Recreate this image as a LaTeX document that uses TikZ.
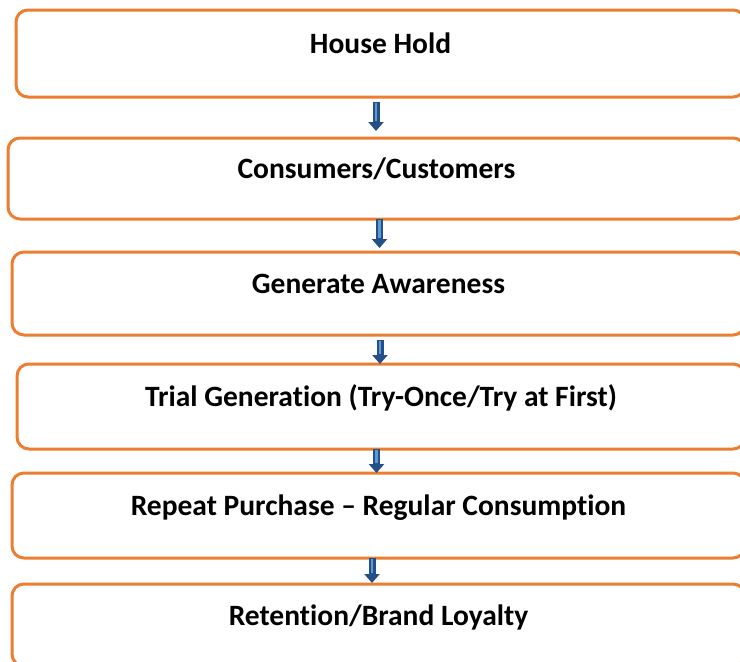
\documentclass[tikz,border=0pt]{standalone}
\usepackage{fontspec}
\setmainfont{Carlito}[Ligatures=NoCommon]
\usetikzlibrary{arrows.meta}

\definecolor{boxorange}{RGB}{237,125,49}
\definecolor{arrowdark}{RGB}{37,80,135}
\definecolor{arrowlight}{RGB}{91,155,213}

\begin{document}
\begin{tikzpicture}[x=1pt, y=-1pt
    , every node/.style={inner sep=2pt, outer sep=0pt}
    , stage/.style={draw=boxorange, line width=3pt, rounded corners=12pt,
        text height=22pt, text depth=22pt,
        font=\fontsize{29.5}{34}\selectfont\bfseries}
    , flow/.style={line width=7pt, draw=arrowdark,
        -{Triangle[length=9pt,width=15pt]},
        postaction={draw=arrowlight, line width=2.5pt, -, shorten >=10pt, shorten <=1pt}}
]
    \useasboundingbox (0,0) rectangle (740,662);

    % Stages, top to bottom.
    \node[stage, minimum width=729pt, minimum height=87pt] (hh) at (380.5,53.5) {House Hold};
    \node[stage, minimum width=737pt, minimum height=81pt] (cc) at (376.5,178.5) {Consumers/Customers};
    \node[stage, minimum width=733pt, minimum height=83pt] (ga) at (378.5,293.5) {Generate Awareness};
    \node[stage, minimum width=728pt, minimum height=85pt] (tg) at (381,406.5)
        {Trial Generation (Try-Once/Try at First)};
    \node[stage, minimum width=733pt, minimum height=85pt] (rp) at (378.5,515.5)
        {Repeat Purchase -- Regular Consumption};
    \node[stage, minimum width=733pt, minimum height=82pt] (rl) at (378.5,625) {Retention/Brand Loyalty};

    % Block arrows between the stages.
    \foreach \a/\b/\dx/\s/\t in {hh/cc/-4.5/5/7, cc/ga/3/0/4, ga/tg/1.5/5/0, tg/rp/-4.5/0/0, rp/rl/-6.5/0/1}
        \draw[flow] ([shift={(\dx,\s)}]\a.south) -- ([shift={(\dx,-\t)}]\a.south |- \b.north);

\end{tikzpicture}
\end{document}
